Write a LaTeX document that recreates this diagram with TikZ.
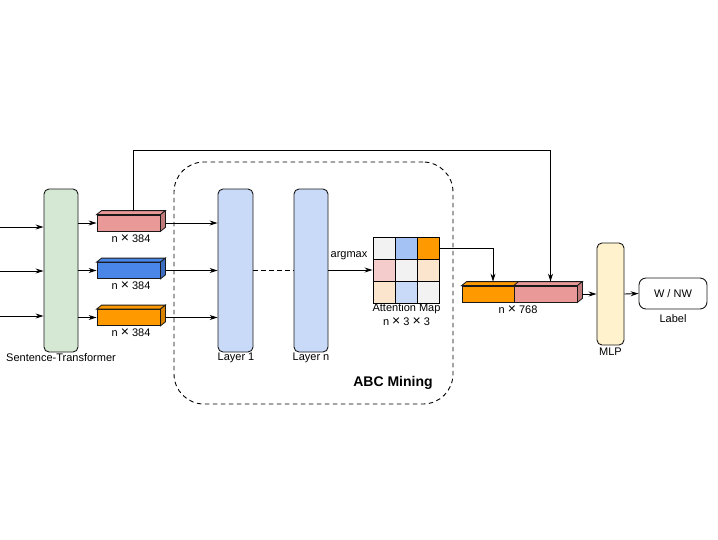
\documentclass[tikz,border=0pt]{standalone}
\usepackage{fontspec}
\setmainfont{Liberation Sans}
\usetikzlibrary{arrows.meta,calc}
\definecolor{stgreen}{HTML}{D5E8D4}
\definecolor{layblue}{HTML}{C9DAF8}
\definecolor{mlpyel}{HTML}{FFF2CC}
\definecolor{cpink}{HTML}{EA9999}
\definecolor{cpinkd}{HTML}{C27B7B}
\definecolor{cblue}{HTML}{4A86E8}
\definecolor{cblued}{HTML}{3C6DC0}
\definecolor{corange}{HTML}{FF9900}
\definecolor{coranged}{HTML}{D98200}
\definecolor{gGray}{HTML}{F2F2F2}
\definecolor{gBlue}{HTML}{A4C2F4}
\definecolor{gPink}{HTML}{F4CCCC}
\definecolor{gPeach}{HTML}{FCE5CD}
\definecolor{gLBlue}{HTML}{C9DAF8}
\newcommand{\tms}{{\fontsize{14}{12}\selectfont ×}}
\tikzset{
  txt/.style={font=\fontsize{11}{12}\selectfont, inner sep=0pt},
  blk/.style={draw=black!90, line width=0.9pt, rounded corners=5pt, inner sep=0pt},
  front/.style={draw=black!90, line width=0.8pt, inner sep=0pt, minimum height=16pt},
  cell/.style={draw=black, line width=1pt, inner sep=0pt, minimum width=22.33pt, minimum height=22pt},
  arr/.style={-{Stealth[length=8pt,width=5pt]}, line width=0.9pt, black},
  ln/.style={line width=0.9pt, black},
}
\newcommand{\cubefaces}[3]{%
  \filldraw[fill=#2, draw=black!90, line width=0.8pt] (#1.north west) -- ++(5,-4) -- ($(#1.north east)+(5,-4)$) -- (#1.north east) -- cycle;
  \filldraw[fill=#3, draw=black!90, line width=0.8pt] (#1.north east) -- ($(#1.north east)+(5,-4)$) -- ($(#1.south east)+(5,-4)$) -- (#1.south east) -- cycle;
}
\begin{document}
\begin{tikzpicture}[x=1pt,y=-1pt]
\useasboundingbox (0,0) rectangle (718,539);
% dashed container
\node[draw=black, dashed, dash pattern=on 4.5pt off 3.5pt, line width=0.9pt, rounded corners=30pt, minimum width=279pt, minimum height=242pt, inner sep=0pt] (abc) at (313.5,283) {};
\node[txt, font=\fontsize{14}{16}\selectfont\bfseries] (abct) at (393,383) {ABC Mining};
% sentence transformer
\node[blk, fill=stgreen, minimum width=34pt, minimum height=163pt] (st) at (61,270.5) {};
\node[txt] (stl) at (61,358) {Sentence-Transformer};
% inputs
\coordinate (in1) at (0,227);
\coordinate (in2) at (0,271);
\coordinate (in3) at (0,316);
\draw[arr] (in1) -- (in1 -| st.west);
\draw[arr] (in2) -- (in2 -| st.west);
\draw[arr] (in3) -- (in3 -| st.west);
% cuboids
\node[front, fill=cpink, minimum width=63pt] (p) at (128.5,223) {};
\node[front, fill=cblue, minimum width=63pt] (b) at (128.5,270.5) {};
\node[front, fill=corange, minimum width=63pt] (o) at (128.5,317.5) {};
\node[txt] (pl) at (131,239) {n \tms{} 384};
\node[txt] (bl) at (131,286) {n \tms{} 384};
\node[txt] (ol) at (131,333) {n \tms{} 384};
\draw[arr] (st.east |- p.west) -- (p.west);
\draw[arr] (st.east |- b.west) -- (b.west);
\draw[arr] (st.east |- o.west) -- (o.west);
% layers
\node[blk, fill=layblue, minimum width=35pt, minimum height=163pt] (l1) at (235.5,270.5) {};
\node[blk, fill=layblue, minimum width=34pt, minimum height=163pt] (lnn) at (311,270.5) {};
\node[txt] (l1l) at (236,358) {Layer 1};
\node[txt] (lnl) at (311,358) {Layer n};
\draw[arr] (p.east) -- (l1.west |- p.east);
\draw[arr] (b.east) -- (l1.west |- b.east);
\draw[arr] (o.east) -- (l1.west |- o.east);
\cubefaces{p}{cpink}{cpinkd}
\cubefaces{b}{cblue}{cblued}
\cubefaces{o}{corange}{coranged}
\draw[ln, dashed, dash pattern=on 4.5pt off 3.5pt] (l1.east) -- (lnn.west);
% attention grid
\node[cell, fill=gGray]   (g11) at (384.2,248) {};
\node[cell, fill=gBlue]   (g12) at (406.5,248) {};
\node[cell, fill=corange] (g13) at (428.8,248) {};
\node[cell, fill=gPink]   (g21) at (384.2,270) {};
\node[cell, fill=gGray]   (g22) at (406.5,270) {};
\node[cell, fill=gPeach]  (g23) at (428.8,270) {};
\node[cell, fill=gPeach]  (g31) at (384.2,292) {};
\node[cell, fill=gLBlue]  (g32) at (406.5,292) {};
\node[cell, fill=gGray]   (g33) at (428.8,292) {};
\node[txt] (aml) at (406.5,309) {Attention Map};
\node[txt] (amd) at (406.5,322) {n \tms{} 3 \tms{} 3};
\draw[arr] (lnn.east |- g21.west) -- (g21.west);
\node[txt] (argm) at (349,256) {argmax};
% concatenated cuboid
\node[front, fill=corange, minimum width=52pt] (c1) at (488,294) {};
\node[front, fill=cpink, minimum width=63pt] (c2) at (545.5,294) {};
\filldraw[fill=corange, draw=black!90, line width=0.8pt] (c1.north west) -- ++(5,-4) -- ($(c1.north east)+(5,-4)$) -- (c1.north east) -- cycle;
\cubefaces{c2}{cpink}{cpinkd}
\node[txt] (cl) at (518,310) {n \tms{} 768};
% connectors into concat
\draw[arr] (g13.east) -| ($(c1.north)+(5,-4)$);
\coordinate (topl) at ($(p.north)+(5,-4)$);
\coordinate (topr) at ($(c2.north)+(5,-4)$);
\draw[arr] (topl) -- (topl |- 0,150) -- (topr |- 0,150) -- (topr);
% MLP
\node[blk, fill=mlpyel, minimum width=27pt, minimum height=102pt] (mlp) at (610.5,294) {};
\node[txt] (mlpl) at (610.5,352) {MLP};
\draw[arr] ($(c2.east)+(5,0)$) -- (mlp.west |- c2.east);
% label
\node[blk, fill=white, rounded corners=7pt, minimum width=68pt, minimum height=31pt] (lab) at (673,293.5) {};
\node[txt] (labt) at (673,293.5) {W / NW};
\node[txt] (labl) at (673,319) {Label};
\draw[arr] (mlp.east) -- (lab.west);
\end{tikzpicture}
\end{document}
